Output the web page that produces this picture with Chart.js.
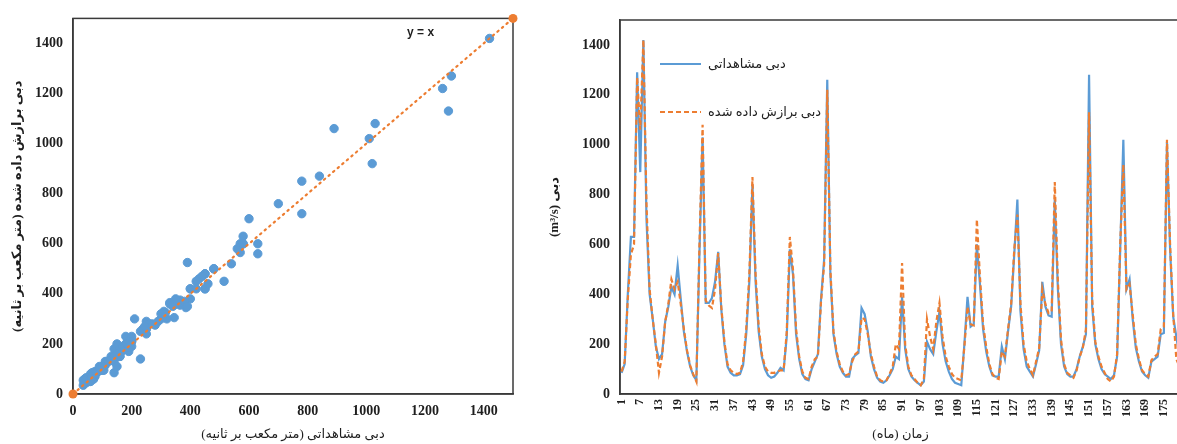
<!DOCTYPE html>
<html>
<head>
<meta charset="utf-8">
<script src="https://cdn.jsdelivr.net/npm/chart.js@4.4.0/dist/chart.umd.min.js"></script>
<style>
html,body{margin:0;padding:0;background:#fff;overflow:hidden;width:1177px;height:444px;}
#scatterBox{position:absolute;left:0;top:0;width:530px;height:444px;}
#lineBox{position:absolute;left:530px;top:0;width:670px;height:444px;}
</style>
</head>
<body>
<div id="scatterBox"><canvas id="scatterChart" width="530" height="444" dir="rtl"></canvas></div>
<div id="lineBox"><canvas id="flowChart" width="670" height="444" dir="rtl"></canvas></div>
<script>
// monthly discharge, months 1..180
const months = [];
for (let m = 1; m <= 180; m++) months.push(String(m));
const shownMonths = ['1','7','13','19','25','31','37','43','49','55','61','67','73','79','85','91','97','103','109','115','121','127','133','139','145','151','157','163','169','175'];

const observed = [
  85,120,400,630,630,1290,890,1420,700,400,
  300,190,140,160,290,350,430,400,515,380,
  250,170,110,75,55,570,1030,365,365,385,
  450,570,340,200,110,85,75,75,80,115,
  240,450,840,450,250,150,100,75,65,70,
  85,105,95,230,580,480,240,140,80,60,
  55,100,130,160,380,540,1260,480,240,160,
  110,85,70,70,140,155,165,345,320,250,
  150,100,65,50,45,55,75,100,150,140,
  390,180,100,70,55,45,35,50,210,180,
  160,250,330,200,130,90,60,45,40,35,
  200,390,270,280,600,440,260,170,110,75,
  70,70,190,140,250,350,560,780,330,180,
  110,90,70,120,175,450,350,315,310,780,
  420,200,110,80,70,70,100,150,190,240,
  1280,350,200,140,100,80,70,60,75,150,
  580,1020,420,460,300,185,130,90,75,65,
  130,140,150,240,245,1010,580,310,230,150
];
const fitted = [
  90,130,380,560,600,1270,1060,1420,760,420,
  300,200,85,150,290,360,460,420,450,360,
  260,175,115,80,50,600,1080,375,355,345,
  420,565,350,210,120,95,85,80,85,130,
  260,480,870,480,270,160,110,90,85,85,
  90,95,95,250,630,500,260,150,90,65,
  60,110,140,150,370,520,1220,500,250,170,
  120,90,75,80,130,160,170,305,300,240,
  160,110,70,55,50,55,80,110,200,180,
  525,200,110,75,60,45,35,60,300,230,
  180,290,365,230,150,110,80,65,60,55,
  190,350,280,275,700,470,280,190,120,80,
  65,60,170,150,260,360,580,720,360,200,
  130,100,75,130,185,420,360,325,330,850,
  450,220,120,85,75,65,95,150,185,260,
  1130,380,210,150,110,85,60,50,70,160,
  600,920,420,440,320,200,140,95,80,70,
  135,150,160,260,270,1020,600,320,140,110
];

const flowTicks = [0,200,400,600,800,1000,1200,1400];
const flowMax = 1500;

const BLUE = '#5B9BD5';
const ORANGE = '#ED7D31';
const FAMILY = "'Liberation Serif', 'DejaVu Sans', serif";
const INK = '#1e1e1e';

// outline around the plotting area
const frame = {
  id: 'frame',
  beforeDatasetsDraw(chart, args, opts) {
    const {ctx, chartArea: a} = chart;
    ctx.save();
    ctx.strokeStyle = opts.color;
    ctx.lineWidth = opts.width;
    ctx.strokeRect(a.left, a.top, a.right - a.left, a.bottom - a.top);
    ctx.restore();
  }
};

// free-standing text placed in data units
const note = {
  id: 'note',
  afterDraw(chart, args, opts) {
    if (!opts.text) return;
    const {ctx, scales} = chart;
    ctx.save();
    ctx.font = opts.font;
    ctx.fillStyle = INK;
    ctx.textAlign = 'center';
    ctx.textBaseline = 'middle';
    ctx.direction = 'ltr';
    ctx.fillText(opts.text, scales.x.getPixelForValue(opts.x), scales.y.getPixelForValue(opts.y));
    ctx.restore();
  }
};

// stacked key in the top-left corner of the plot
const lineKey = {
  id: 'lineKey',
  afterDraw(chart, args, opts) {
    if (!opts.show) return;
    const {ctx, chartArea: a} = chart;
    ctx.save();
    ctx.font = opts.font;
    ctx.textBaseline = 'middle';
    ctx.textAlign = 'left';
    chart.data.datasets.forEach((ds, i) => {
      const x = a.left + opts.left;
      const y = a.top + opts.top + i * opts.gap;
      ctx.strokeStyle = ds.borderColor;
      ctx.lineWidth = ds.borderWidth;
      ctx.setLineDash(ds.borderDash || []);
      ctx.beginPath();
      ctx.moveTo(x, y);
      ctx.lineTo(x + opts.length, y);
      ctx.stroke();
      ctx.setLineDash([]);
      ctx.fillStyle = INK;
      ctx.fillText(ds.label, x + opts.length + 7, y + 1);
    });
    ctx.restore();
  }
};

Chart.register(frame, note, lineKey);

const tickFont = {family: FAMILY, size: 14, weight: 'bold'};

function valueAxis(title, titlePad, width) {
  return {
    type: 'linear', min: 0, max: flowMax,
    afterBuildTicks: s => { s.ticks = flowTicks.map(v => ({value: v})); },
    afterFit: s => { s.width = width; },
    grid: {display: false, drawTicks: false},
    border: {display: true, color: '#3a3a3a', width: 1.5},
    ticks: {color: INK, padding: 10, font: tickFont, callback: v => String(v)},
    title: {display: true, text: title, color: INK, padding: {top: titlePad, bottom: 0},
            font: {family: FAMILY, size: 13, weight: 'bold'}}
  };
}

// observed vs fitted scatter with the 1:1 line
const pairs = observed.map((v, i) => ({x: v, y: fitted[i]}));
const identity = [{x: 0, y: 0}, {x: flowMax, y: flowMax}];

new Chart(document.getElementById('scatterChart'), {
  type: 'scatter',
  data: {
    datasets: [
      {data: pairs, backgroundColor: BLUE, borderColor: BLUE, pointRadius: 4.2, pointHoverRadius: 4.2, order: 2},
      {type: 'line', data: identity, borderColor: ORANGE, borderWidth: 2.2, borderDash: [1.5, 4.5],
       borderCapStyle: 'round', backgroundColor: ORANGE, pointRadius: 4.5, pointBackgroundColor: ORANGE,
       pointBorderWidth: 0, clip: false, order: 1}
    ]
  },
  options: {
    responsive: false, animation: false, events: [],
    layout: {padding: {left: 0, right: 17, top: 16, bottom: 0}},
    plugins: {
      legend: {display: false}, tooltip: {enabled: false},
      frame: {color: '#3a3a3a', width: 1.5},
      note: {text: 'y = x', x: 1185, y: 1442, font: "bold 12px 'Liberation Sans', Arial, sans-serif"},
      lineKey: {show: false}
    },
    scales: {
      x: {
        type: 'linear', min: 0, max: flowMax,
        afterBuildTicks: s => { s.ticks = flowTicks.map(v => ({value: v})); },
        afterFit: s => { s.height = 50; },
        grid: {display: false, drawTicks: false},
        border: {display: true, color: '#3a3a3a', width: 1.5},
        ticks: {color: INK, padding: 9, maxRotation: 0, font: tickFont, callback: v => String(v)},
        title: {display: true, text: 'دبی مشاهداتی (متر مکعب بر ثانیه)', color: INK, padding: {top: 0, bottom: 2},
                font: {family: FAMILY, size: 13}}
      },
      y: valueAxis('دبی برازش داده شده (متر مکعب بر ثانیه)', 10, 73)
    }
  }
});

// monthly time series; the fitted dashes sit above the observed line
new Chart(document.getElementById('flowChart'), {
  type: 'line',
  data: {
    labels: months,
    datasets: [
      {label: 'دبی مشاهداتی', data: observed, borderColor: BLUE, backgroundColor: BLUE,
       borderWidth: 2.2, pointRadius: 0, tension: 0, order: 2},
      {label: 'دبی برازش داده شده', data: fitted, borderColor: ORANGE, backgroundColor: ORANGE,
       borderWidth: 2.2, borderDash: [5, 3], pointRadius: 0, tension: 0, order: 1}
    ]
  },
  options: {
    responsive: false, animation: false, events: [],
    layout: {padding: {left: 0, right: 19, top: 20, bottom: 0}},
    plugins: {
      legend: {display: false}, tooltip: {enabled: false},
      frame: {color: '#3a3a3a', width: 1.5},
      note: {text: ''},
      lineKey: {show: true, left: 40, top: 44, gap: 48, length: 41, font: "13px " + FAMILY}
    },
    scales: {
      x: {
        type: 'category', offset: true,
        afterFit: s => { s.height = 50; },
        grid: {display: false, drawTicks: false},
        border: {display: true, color: '#3a3a3a', width: 1.5},
        ticks: {
          color: INK, padding: 5, autoSkip: false, minRotation: 90, maxRotation: 90,
          font: {family: FAMILY, size: 12, weight: 'bold'},
          callback: (v, i) => shownMonths.includes(months[i]) ? months[i] : null
        },
        title: {display: true, text: 'زمان (ماه)', color: INK, padding: {top: 0, bottom: 2},
                font: {family: FAMILY, size: 13}}
      },
      y: valueAxis('دبی (m³/s)', 17, 90)
    }
  }
});
</script>
</body>
</html>
